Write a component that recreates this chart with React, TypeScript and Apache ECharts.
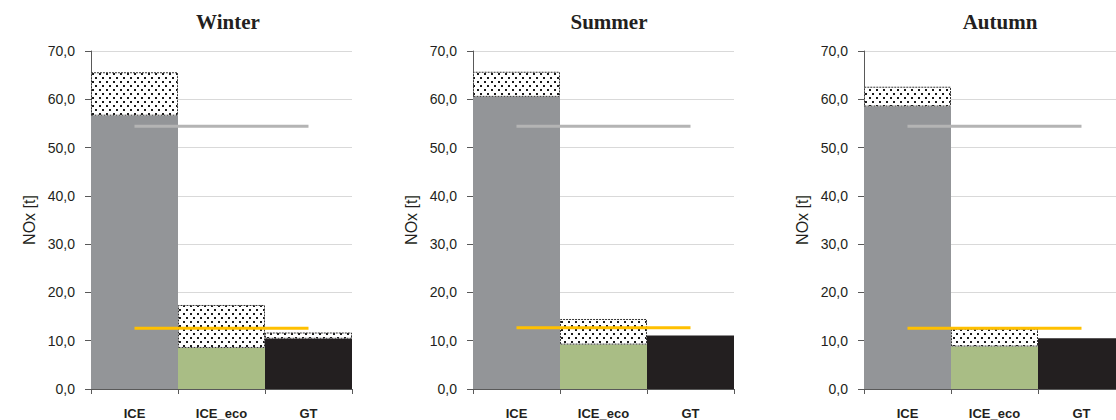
import React, { useEffect, useRef } from 'react';
import * as echarts from 'echarts';

const categories = ['ICE', 'ICE_eco', 'GT'];
const seasons = ['Winter', 'Summer', 'Autumn'];
const yTickValues = [0, 10, 20, 30, 40, 50, 60, 70];

const baseWinter = [56.6, 8.5, 10.4];
const dottedWinter = [9.0, 8.9, 1.3];
const baseSummer = [60.5, 9.2, 11.1];
const dottedSummer = [5.2, 5.3, 0];
const baseAutumn = [58.5, 8.8, 10.5];
const dottedAutumn = [4.1, 3.7, 0];
const greyLevel = [54.4, 54.4, 54.4];
const yellowLevel = [12.6, 12.7, 12.6];

const baseBySeason = [baseWinter, baseSummer, baseAutumn];
const dottedBySeason = [dottedWinter, dottedSummer, dottedAutumn];

const categoryColors = ['#939598', '#a9bd85', '#231f20'];
const gridLefts = [91, 473, 864];
const titleCenters = [228, 609, 1000];

function makeDots() {
  const c = document.createElement('canvas');
  c.width = 7;
  c.height = 8;
  const ctx = c.getContext('2d')!;
  ctx.fillStyle = '#ffffff';
  ctx.fillRect(0, 0, 7, 8);
  ctx.fillStyle = '#1a1a1a';
  ctx.fillRect(1, 1, 2, 2);
  ctx.fillRect(4, 5, 2, 2);
  return c;
}

export default function App() {
  const ref = useRef<HTMLDivElement>(null);
  useEffect(() => {
    if (!ref.current) return;
    const chart = echarts.init(ref.current, null, { renderer: 'svg' });
    const dots = makeDots();
    const pattern: any = { image: dots, repeat: 'repeat', imageWidth: 7, imageHeight: 8 };
    const axisColor = '#595959';
    const grids = gridLefts.map((l) => ({ left: l, top: 51, width: 261, height: 339 }));
    const xAxes = gridLefts.map((_, i) => ({
      type: 'category',
      gridIndex: i,
      data: categories,
      axisLine: { show: true, lineStyle: { color: axisColor, width: 1 } },
      axisTick: { show: true, length: 5, lineStyle: { color: axisColor } },
      axisLabel: {
        margin: 18,
        fontFamily: 'Liberation Sans',
        fontWeight: 'bold',
        fontSize: 13,
        color: '#231f20',
      },
    }));
    const yAxes = gridLefts.map((_, i) => ({
      type: 'value',
      gridIndex: i,
      min: yTickValues[0],
      max: yTickValues[yTickValues.length - 1],
      interval: 10,
      name: 'NOx [t]',
      nameLocation: 'middle',
      nameGap: 54,
      nameTextStyle: { fontFamily: 'Liberation Sans', fontSize: 16, color: '#231f20' },
      axisLine: { show: true, lineStyle: { color: axisColor, width: 1 } },
      axisTick: { show: true, length: 6, lineStyle: { color: axisColor } },
      splitLine: { show: true, lineStyle: { color: '#d9d9d9', width: 1 } },
      axisLabel: {
        margin: 16,
        fontFamily: 'Liberation Sans',
        fontSize: 14,
        color: '#231f20',
        formatter: (v: number) => v.toFixed(1).replace('.', ','),
      },
    }));
    const series: any[] = [];
    seasons.forEach((_, i) => {
      series.push({
        type: 'bar',
        xAxisIndex: i,
        yAxisIndex: i,
        stack: 's' + i,
        barCategoryGap: 0,
        barWidth: '100%',
        data: baseBySeason[i].map((v, k) => ({ value: v, itemStyle: { color: categoryColors[k] } })),
        z: 2,
      });
      series.push({
        type: 'bar',
        xAxisIndex: i,
        yAxisIndex: i,
        stack: 's' + i,
        barCategoryGap: 0,
        barWidth: '100%',
        data: dottedBySeason[i].map((v) => (v > 0 ? v : null)),
        itemStyle: { color: pattern, borderColor: '#333333', borderWidth: 1, borderType: [2, 1] },
        z: 2,
      });
      series.push({
        type: 'line',
        xAxisIndex: i,
        yAxisIndex: i,
        data: greyLevel,
        symbol: 'none',
        lineStyle: { color: '#b4b4b4', width: 3 },
        z: 5,
      });
      series.push({
        type: 'line',
        xAxisIndex: i,
        yAxisIndex: i,
        data: [yellowLevel[i], yellowLevel[i], yellowLevel[i]],
        symbol: 'none',
        lineStyle: { color: '#ffc000', width: 3 },
        z: 5,
      });
    });
    chart.setOption({
      animation: false,
      backgroundColor: '#ffffff',
      grid: grids,
      xAxis: xAxes,
      yAxis: yAxes,
      series,
      graphic: seasons.map((s, i) => ({
        type: 'text',
        x: titleCenters[i],
        y: 22,
        style: {
          text: s,
          font: 'bold 21px "Liberation Serif"',
          textAlign: 'center',
          textVerticalAlign: 'middle',
          fill: '#231f20',
        },
      })),
    });
    return () => chart.dispose();
  }, []);
  return (
    <div style={{ position: 'absolute', left: 0, top: 0, width: 1116, height: 420, overflow: 'hidden', background: '#fff' }}>
      <div ref={ref} style={{ width: 1130, height: 420 }} />
    </div>
  );
}
